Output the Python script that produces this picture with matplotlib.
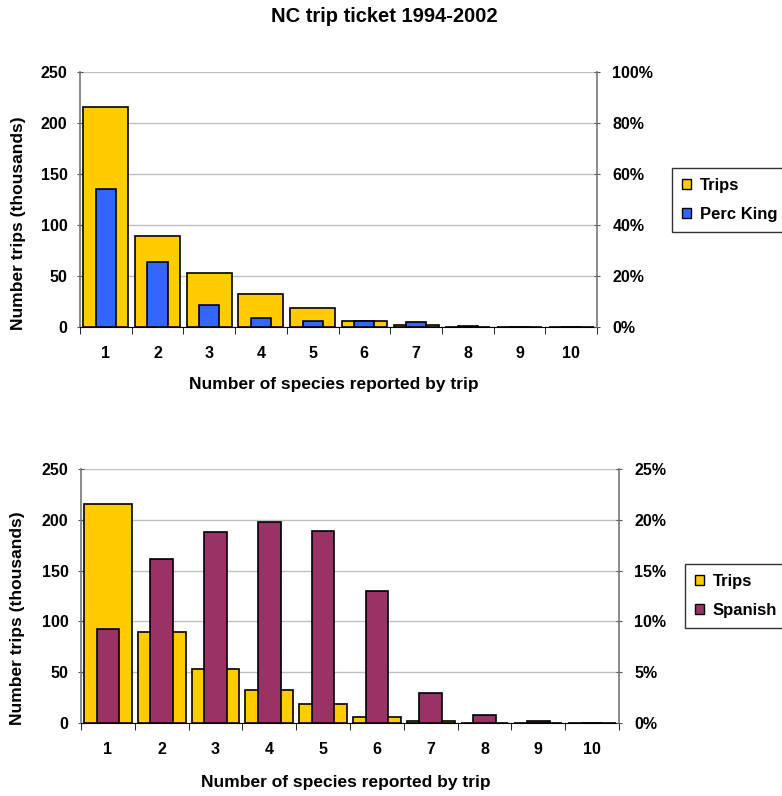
import matplotlib
matplotlib.use("Agg")
import matplotlib.pyplot as plt
from matplotlib.patches import Patch
from matplotlib.ticker import FuncFormatter
import numpy as np

plt.rcParams['font.family'] = ['Liberation Sans', 'DejaVu Sans']
plt.rcParams['font.weight'] = 'bold'

species = [1, 2, 3, 4, 5, 6, 7, 8, 9, 10]
trips = [215.7, 89.4, 53.1, 32.7, 18.4, 6.0, 1.6, 0.3, 0.1, 0.05]          # thousands
perc_king = [54.0, 25.5, 8.6, 3.5, 2.4, 2.5, 1.8, 0.4, 0.05, 0.0]           # percent
spanish = [9.25, 16.1, 18.8, 19.8, 18.9, 13.0, 3.0, 0.76, 0.2, 0.0]        # percent

title = "NC trip ticket 1994-2002"
xlabel = "Number of species reported by trip"
ylabel = "Number trips (thousands)"

C_TRIPS = "#FFCC00"
C_KING = "#3366FF"
C_SPAN = "#993366"

TICK_FS = 11.5
LABEL_FS = 12.5
LEG_FS = 12

fig = plt.figure(figsize=(7.82, 7.96), dpi=100)

def make_panel(rect, second, color, name, rmax, rstep, wide_w, narrow_w, leg_anchor,
               xlab_xy, ylab_xy):
    ax = fig.add_axes(rect)
    x = np.array(species)
    ax.bar(x, trips, width=wide_w, color=C_TRIPS, edgecolor='black', linewidth=1.2, zorder=3)
    ax.set_xlim(0.5, 10.5)
    ax.set_ylim(0, 250)
    ax.set_yticks(np.arange(0, 251, 50))
    ax.yaxis.grid(True, color='#c0c0c0', linewidth=1.0, zorder=0)
    ax.set_axisbelow(True)
    ax.set_xticks(x)
    ax.set_xticks(np.arange(0.5, 11, 1), minor=True)
    ax.tick_params(axis='x', which='major', length=0, pad=14, labelsize=TICK_FS)
    ax.tick_params(axis='x', which='minor', length=5, direction='out', color='black')
    ax.tick_params(axis='y', length=4, direction='inout', labelsize=TICK_FS, color='#555555', pad=7)
    for lab in ax.get_xticklabels() + ax.get_yticklabels():
        lab.set_fontweight('bold')
    ax.spines['top'].set_visible(False)
    ax.spines['left'].set_color('#777777')
    ax.spines['left'].set_linewidth(1.2)
    ax.spines['right'].set_visible(False)
    ax.spines['bottom'].set_color('black')
    ax.set_xlabel(xlabel, fontsize=LABEL_FS, fontweight='bold')
    ax.set_ylabel(ylabel, fontsize=LABEL_FS, fontweight='bold')
    ax.xaxis.set_label_coords(*xlab_xy)
    ax.yaxis.set_label_coords(*ylab_xy)
    ax.xaxis.label.set_va('center')
    ax.yaxis.label.set_va('center')

    ax2 = ax.twinx()
    ax2.bar(x, second, width=narrow_w, color=color, edgecolor='black', linewidth=1.2, zorder=3)
    ax2.set_ylim(0, rmax)
    ax2.set_yticks(np.arange(0, rmax + 0.001, rstep))
    ax2.yaxis.set_major_formatter(FuncFormatter(lambda v, p: f"{v:.0f}%"))
    ax2.tick_params(axis='y', length=4, direction='inout', labelsize=TICK_FS, color='#555555', pad=9)
    for lab in ax2.get_yticklabels():
        lab.set_fontweight('bold')
    ax2.spines['top'].set_visible(False)
    ax2.spines['left'].set_visible(False)
    ax2.spines['bottom'].set_visible(False)
    ax2.spines['right'].set_color('#777777')
    ax2.spines['right'].set_linewidth(1.2)

    handles = [Patch(facecolor=C_TRIPS, edgecolor='black', linewidth=1.0),
               Patch(facecolor=color, edgecolor='black', linewidth=1.0)]
    leg = fig.legend(handles, ["Trips", name], loc='upper left', bbox_to_anchor=leg_anchor,
                     frameon=True, fancybox=False, shadow=False, handlelength=0.55,
                     handleheight=0.55, handletextpad=0.5, labelspacing=0.85,
                     prop={'weight': 'bold', 'size': LEG_FS}, borderpad=0.6,
                     borderaxespad=0.0)
    leg.get_frame().set_edgecolor('black')
    leg.get_frame().set_linewidth(1.0)
    return ax, ax2

make_panel([80/782, 1 - 327/796, 517/782, 255/796], perc_king, C_KING, "Perc King",
           100, 20, 0.87, 0.39, (672/782, 1 - 168/796),
           ((333.5 - 80) / 517, (327 - 385) / 255), ((18.5 - 80) / 517, 0.5 - 24 / 255))
make_panel([81/782, 1 - 723/796, 538/782, 254/796], spanish, C_SPAN, "Spanish",
           25, 5, 0.89, 0.42, (685/782, 1 - 564/796),
           ((346 - 81) / 538, (723 - 782) / 254), ((17 - 81) / 538, 0.5 - 22 / 254))

fig.text(384/782, 1 - 16/796, title, ha='center', va='center', fontsize=14.5, fontweight='bold')

fig.savefig("out.png", dpi=100)
